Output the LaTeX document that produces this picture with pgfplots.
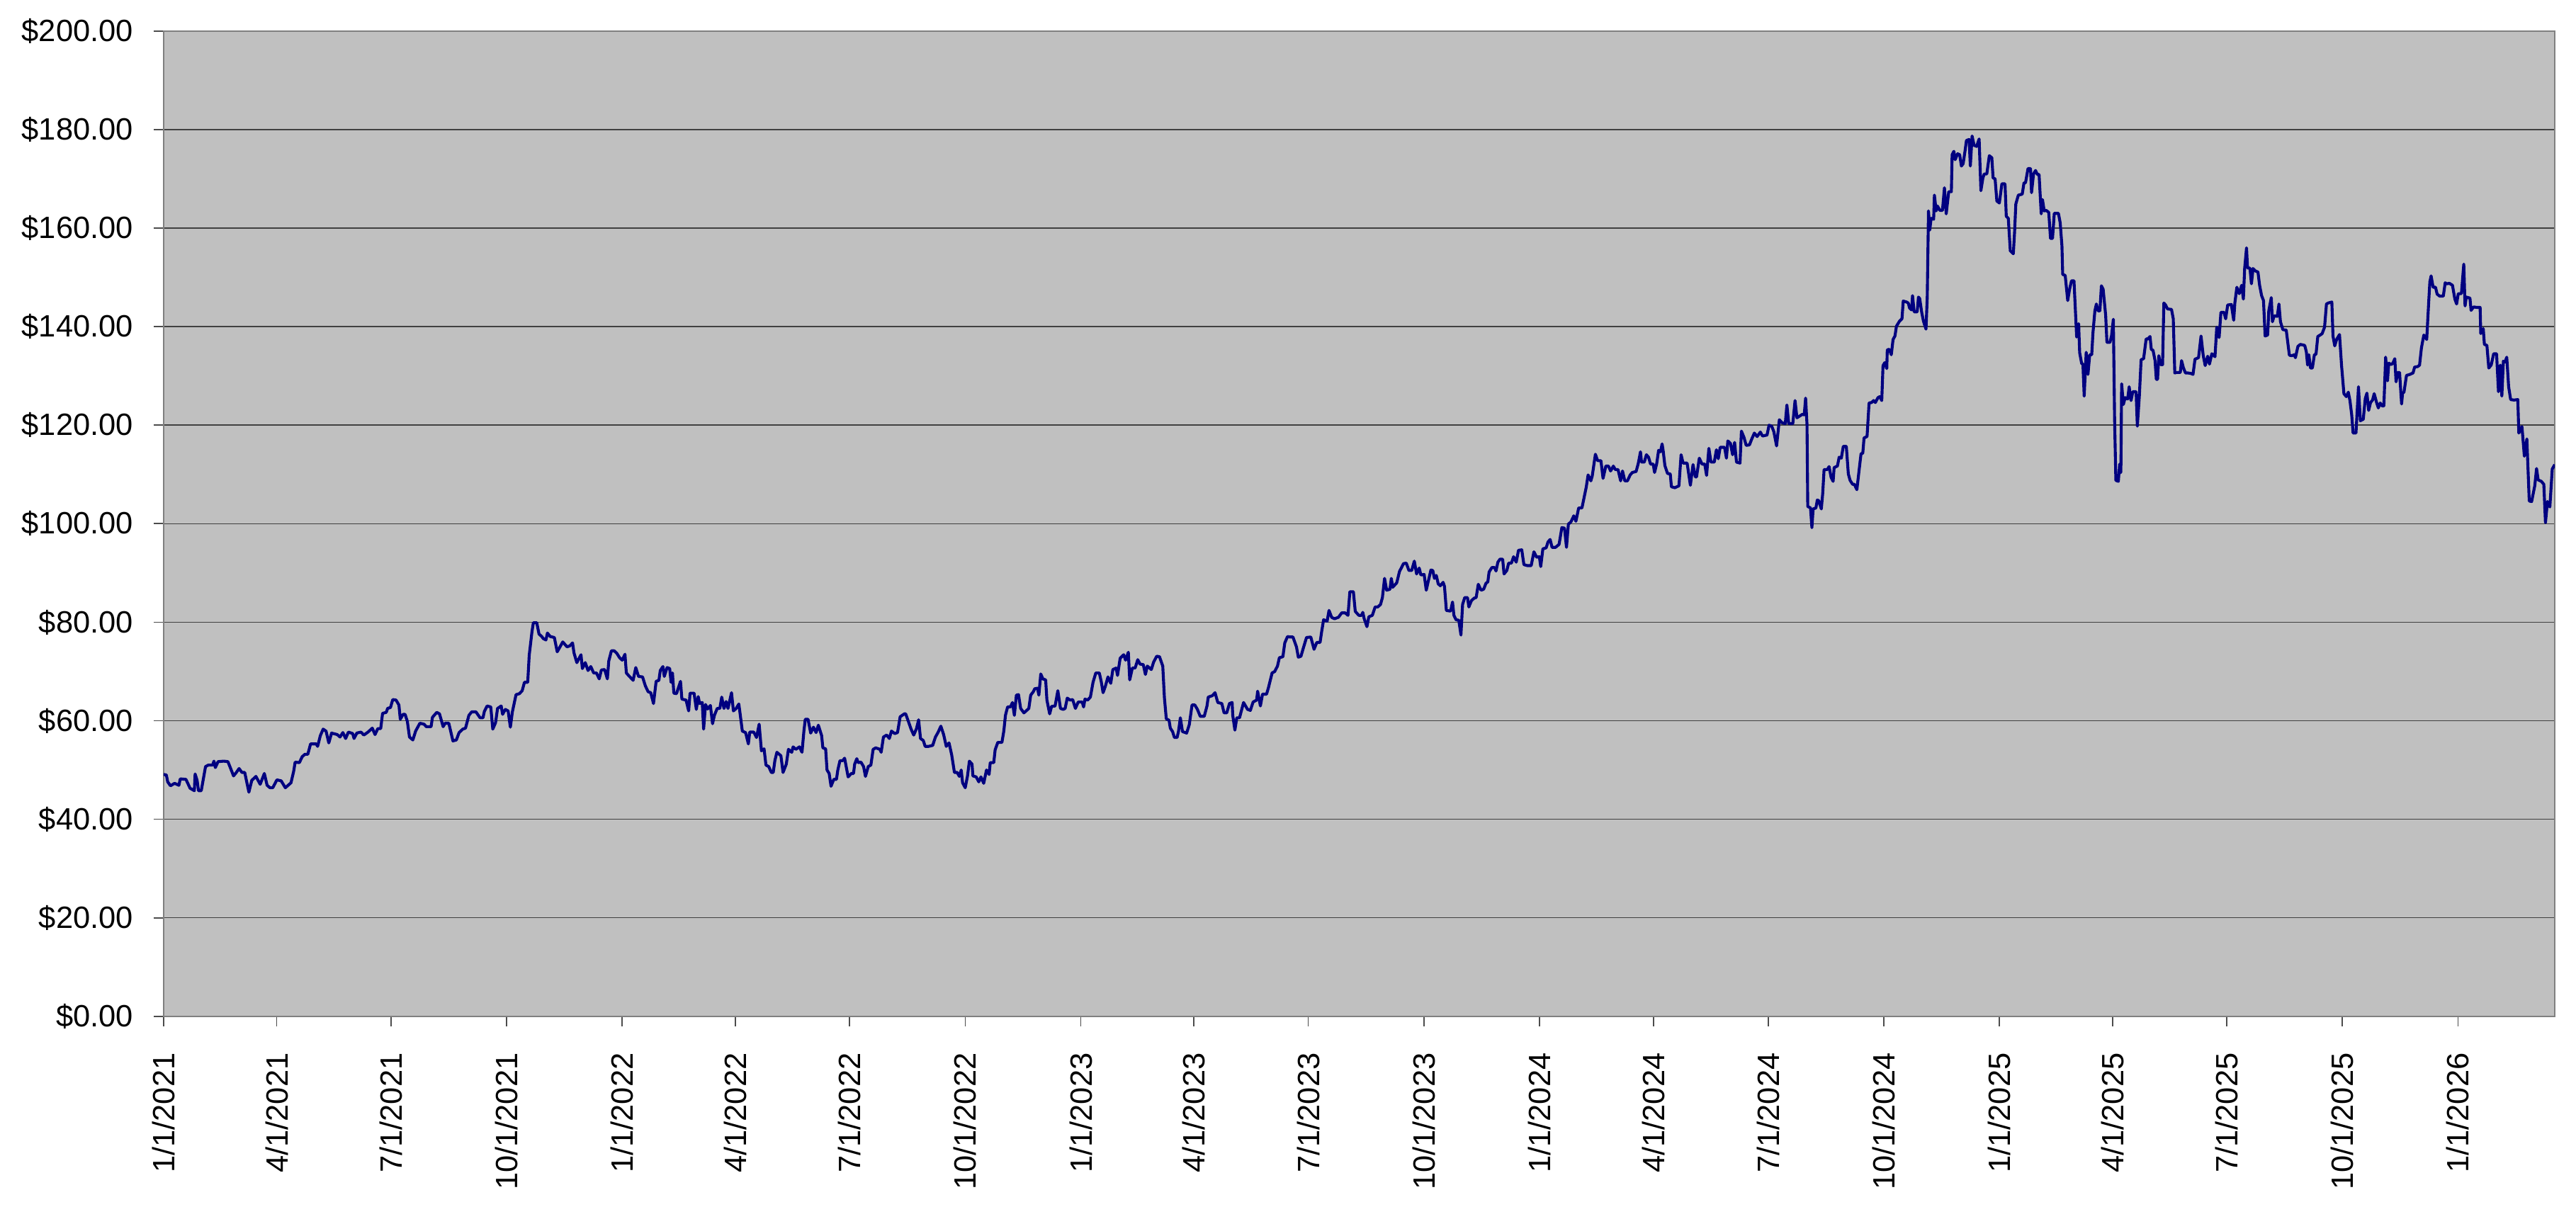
\documentclass[border=0pt]{standalone}
\usepackage{pgfplots}
\pgfplotsset{compat=1.18}
\usepackage{pgfplotstable}
\usepackage{fontspec}
\setmainfont{Liberation Sans}
\definecolor{silverbg}{HTML}{C0C0C0}
\definecolor{navyline}{HTML}{000080}
\definecolor{framegray}{HTML}{808080}

\pgfplotstableread{
x y
0.0 49.1
2.2 49.0
3.3 47.6
5.5 46.8
8.8 47.3
12.2 46.9
13.3 48.2
17.8 48.1
21.1 46.3
24.5 45.8
25.1 49.2
26.7 47.9
27.8 45.8
30.0 45.8
33.4 50.7
35.6 51.0
39.0 51.0
40.1 51.8
41.2 50.5
43.4 51.7
47.9 51.8
51.2 51.7
53.4 50.3
55.7 48.8
57.9 49.5
60.1 50.3
62.4 49.5
64.6 49.5
67.9 45.5
70.2 47.9
73.5 48.7
76.9 47.1
80.2 49.3
82.4 46.9
84.7 46.4
86.9 46.4
90.2 48.0
93.6 47.8
96.9 46.4
101.4 47.4
103.6 49.8
104.7 51.6
108.1 51.5
110.3 52.7
112.5 53.2
114.8 53.2
117.0 55.3
121.5 55.3
122.6 54.8
124.8 57.0
127.0 58.3
129.3 57.9
131.5 55.5
133.7 57.5
138.2 57.2
140.4 56.7
142.7 57.6
144.9 56.4
147.1 57.7
150.5 57.4
151.6 56.4
153.8 57.5
157.1 57.7
159.4 57.1
162.7 57.7
166.1 58.5
168.3 57.2
170.5 58.4
172.8 58.4
174.3 61.5
177.2 61.7
178.3 62.5
180.6 62.7
182.4 64.3
185.0 64.2
187.3 63.2
188.4 60.3
190.6 61.3
192.2 61.3
194.0 59.9
195.7 56.7
198.4 56.1
200.6 57.9
204.0 59.5
207.3 59.3
209.1 58.8
212.9 58.8
214.0 60.7
217.4 61.7
219.6 61.4
222.5 58.8
224.1 59.5
227.0 59.5
230.3 55.9
233.0 56.1
235.2 57.6
238.1 58.3
240.3 58.5
243.0 61.1
245.2 61.8
248.6 61.8
251.9 60.6
254.2 60.6
255.3 61.9
257.5 63.0
260.4 62.8
262.0 58.3
264.2 59.6
265.8 62.5
268.7 63.0
269.8 61.3
272.0 62.3
274.2 62.0
276.0 58.7
277.6 61.8
280.5 65.3
283.2 65.5
285.4 66.1
287.2 67.8
289.8 67.8
291.0 73.3
293.2 78.1
294.3 79.9
297.0 79.9
298.8 77.6
301.0 77.1
302.1 76.7
304.3 76.4
305.5 77.8
307.7 77.1
311.0 76.9
313.3 74.0
315.5 75.0
317.7 76.0
321.1 75.0
323.3 75.2
325.5 75.8
326.6 73.8
328.9 71.8
332.2 73.4
333.3 70.6
335.6 71.8
337.8 70.2
340.0 71.0
342.3 69.7
344.5 69.7
346.7 68.5
348.4 70.3
351.0 70.4
353.2 68.5
354.3 72.1
356.4 74.2
358.6 74.2
360.7 73.7
362.9 72.8
365.0 72.3
367.2 73.5
368.3 69.7
370.4 69.1
373.7 68.2
375.8 70.8
378.0 69.0
381.2 68.9
383.4 67.1
385.6 65.9
387.7 65.7
389.9 63.5
392.0 68.0
394.2 68.2
395.3 70.2
397.4 71.0
398.5 69.0
400.7 70.8
402.8 70.6
403.9 67.8
405.0 69.7
406.1 65.6
408.2 65.5
411.4 68.0
412.5 64.4
415.8 64.2
417.9 62.0
419.0 65.6
422.2 65.6
424.0 62.3
425.5 64.9
426.6 63.5
428.7 63.7
429.8 58.3
431.3 63.3
433.0 62.4
435.2 63.1
436.9 59.4
438.4 61.1
440.6 62.5
442.7 62.5
444.2 64.8
446.0 62.5
447.7 63.9
449.2 62.5
452.0 65.7
453.5 62.0
455.7 62.5
457.8 63.4
458.9 61.3
460.6 57.9
463.2 57.6
465.4 55.3
466.5 57.7
469.7 57.7
471.9 56.6
474.0 59.3
475.8 53.9
477.9 54.3
479.4 51.0
481.6 50.7
483.7 49.5
485.2 49.5
486.5 51.9
488.1 53.6
491.3 52.9
493.0 49.5
495.6 51.2
497.3 54.2
499.9 53.6
501.0 54.7
503.2 54.2
506.0 54.7
508.1 53.6
509.6 57.9
510.7 60.3
512.9 60.3
515.0 57.5
517.2 58.7
519.3 57.6
521.1 59.1
523.7 57.0
524.7 54.5
526.9 54.3
528.0 50.0
529.7 49.3
531.2 46.7
533.4 48.1
535.5 48.1
536.6 50.0
538.3 51.9
540.5 51.9
542.0 52.4
544.8 48.6
547.4 49.3
549.1 49.3
550.0 51.2
551.7 52.3
552.8 51.5
555.0 51.6
557.1 50.7
558.6 48.7
560.8 50.7
562.9 51.0
564.7 54.2
566.8 54.5
570.1 54.2
571.1 53.6
572.9 56.7
575.5 57.1
577.6 56.4
579.3 57.9
581.9 57.4
584.1 57.6
586.2 60.8
589.5 61.4
590.6 61.4
592.7 59.9
594.9 58.3
597.0 57.1
599.2 58.4
600.9 60.2
602.4 56.4
604.6 56.0
606.1 54.8
608.9 54.8
612.1 55.0
614.3 56.7
616.5 57.7
618.6 58.9
620.8 57.2
622.9 54.8
625.1 55.5
627.2 53.1
629.4 49.5
631.6 49.5
633.3 48.7
634.8 50.0
635.9 47.4
638.0 46.4
639.8 48.8
641.3 51.8
643.4 51.2
644.1 48.8
646.7 48.6
648.8 47.6
650.5 48.6
652.7 47.3
654.9 50.0
657.0 49.1
657.9 51.5
660.7 51.5
661.8 54.1
663.9 55.6
667.2 55.6
668.7 57.9
670.0 61.1
671.7 62.8
673.9 62.8
675.6 63.7
677.1 61.1
678.7 65.2
680.4 65.3
682.1 62.5
684.7 61.6
686.9 62.1
688.6 62.5
690.1 65.2
692.2 65.9
693.3 66.5
695.5 66.6
696.6 65.2
698.1 69.5
699.8 68.5
702.0 68.3
703.0 64.2
705.2 61.4
706.7 62.9
709.5 63.0
711.7 66.1
713.8 62.5
716.0 62.3
717.5 62.5
719.2 64.6
721.4 64.2
723.5 64.3
725.7 62.5
727.9 63.8
731.1 63.8
732.2 62.8
733.3 64.4
735.4 64.2
737.6 64.8
739.7 67.8
741.9 69.7
744.7 69.7
746.2 68.0
747.7 65.7
749.4 66.9
751.6 68.9
753.8 67.6
755.5 70.4
758.1 70.7
759.2 69.2
761.3 72.7
764.1 73.4
765.6 72.3
767.8 73.9
768.9 68.3
771.0 70.7
773.2 70.7
775.3 72.4
777.1 71.5
779.7 71.4
781.4 69.4
782.9 71.1
786.1 70.4
787.9 71.9
790.4 73.1
792.6 73.0
795.2 71.1
796.5 64.7
798.0 60.4
800.2 60.1
801.2 58.5
803.0 57.8
804.5 56.6
806.6 56.6
807.7 57.8
809.2 60.6
810.9 57.8
814.2 57.5
816.3 59.2
818.5 63.2
820.7 63.2
822.8 62.3
825.0 60.9
828.2 60.9
830.4 63.0
831.4 64.8
834.7 65.1
836.8 65.7
839.0 63.7
842.2 63.5
844.0 61.6
846.1 61.6
848.3 63.5
850.4 63.7
850.9 61.1
852.6 58.1
854.1 60.6
856.3 60.6
859.5 63.7
862.7 62.3
864.9 62.1
867.1 63.8
869.9 64.2
870.7 66.0
872.9 63.0
874.6 65.4
877.8 65.4
879.4 66.8
882.2 69.7
884.3 70.0
886.5 71.1
888.0 72.8
890.8 73.0
892.3 75.8
894.5 77.1
896.2 77.0
898.8 77.0
901.6 75.0
903.1 72.9
905.2 73.1
907.0 74.7
909.6 76.9
913.0 77.0
915.6 74.5
917.8 75.9
920.4 75.9
921.6 78.0
923.2 80.5
926.0 80.2
927.5 82.4
929.6 81.0
931.8 80.7
935.0 81.0
937.6 81.9
940.4 81.9
942.6 81.4
944.1 86.2
946.9 86.2
948.4 82.2
951.2 81.4
953.4 81.4
954.4 82.0
955.5 80.7
957.7 79.1
959.2 81.1
962.0 81.4
964.2 83.1
966.3 83.1
968.5 83.6
970.0 85.0
971.7 88.9
973.4 86.5
976.0 86.7
977.1 88.9
978.2 87.1
981.4 88.0
983.6 90.3
986.8 91.9
989.0 92.0
991.1 90.5
993.3 90.5
995.4 92.4
997.2 89.8
999.3 91.0
1000.6 89.6
1003.2 89.7
1004.9 86.5
1006.4 88.2
1008.6 90.6
1010.1 90.5
1011.4 88.9
1012.9 89.5
1014.4 87.8
1016.1 87.4
1018.3 88.1
1019.4 87.3
1020.9 82.4
1023.0 82.3
1024.3 82.3
1025.8 84.1
1026.9 81.4
1028.6 80.5
1030.8 80.4
1032.5 77.4
1033.8 83.6
1035.5 85.0
1037.7 85.0
1038.8 83.1
1040.9 84.4
1043.1 84.9
1044.6 85.0
1046.3 87.7
1048.5 86.5
1050.6 86.7
1052.4 87.9
1053.9 88.2
1054.9 90.2
1057.1 91.1
1059.3 91.1
1060.4 90.4
1061.9 92.2
1063.6 92.8
1065.7 92.8
1066.8 89.8
1069.0 90.5
1070.5 92.0
1072.7 92.0
1074.4 93.3
1076.5 92.2
1078.3 94.6
1080.9 94.7
1082.6 91.7
1085.2 91.5
1088.4 91.5
1090.6 94.3
1092.7 93.2
1094.9 93.3
1096.0 91.3
1097.7 94.9
1100.3 95.1
1101.8 96.3
1103.5 96.8
1105.0 95.2
1107.8 95.2
1110.6 95.8
1112.8 99.2
1114.9 99.1
1116.5 95.2
1118.0 99.9
1120.1 100.4
1122.3 101.6
1124.0 100.5
1126.2 103.2
1128.8 103.2
1130.5 105.3
1132.2 107.4
1133.7 109.9
1135.9 108.7
1137.0 109.7
1139.5 114.1
1141.3 112.8
1143.9 112.8
1145.6 109.2
1147.8 111.7
1149.9 111.7
1151.6 110.7
1153.8 111.7
1155.3 111.0
1157.5 111.0
1159.6 108.7
1161.1 110.7
1162.9 108.7
1165.0 108.7
1167.2 109.9
1168.9 110.4
1171.9 110.6
1173.6 112.2
1175.4 114.6
1176.2 112.5
1178.4 112.5
1180.1 114.0
1181.8 113.5
1183.4 112.1
1185.5 112.1
1186.6 110.4
1188.3 112.2
1189.8 114.9
1191.3 114.6
1192.6 116.2
1193.5 114.7
1194.8 111.8
1196.9 110.2
1199.1 110.1
1200.0 107.5
1202.8 107.3
1206.0 107.7
1207.7 114.0
1209.3 112.3
1212.5 112.3
1215.1 107.8
1217.2 112.0
1219.0 109.5
1220.0 109.5
1222.2 113.3
1224.4 112.1
1226.5 112.1
1228.0 109.8
1229.8 115.3
1231.5 112.5
1234.1 112.5
1235.8 115.0
1237.3 113.2
1238.8 115.5
1242.3 115.5
1243.8 113.3
1244.9 116.8
1247.0 116.3
1248.7 114.0
1250.3 116.5
1251.8 112.5
1254.6 112.3
1255.7 118.8
1257.8 117.5
1259.5 115.9
1262.1 116.0
1263.8 117.1
1266.0 118.4
1268.2 117.7
1270.8 118.6
1272.5 117.8
1276.1 118.0
1277.7 120.0
1279.8 119.8
1281.5 118.7
1283.7 115.8
1285.9 121.1
1288.0 120.5
1290.6 120.3
1291.9 124.1
1293.4 120.3
1296.6 120.3
1298.4 125.0
1299.9 121.5
1304.2 122.2
1305.7 122.1
1306.8 125.5
1307.9 120.2
1308.5 103.5
1310.7 103.2
1311.8 99.2
1312.8 103.0
1315.0 103.2
1316.1 104.8
1317.2 104.7
1319.3 103.0
1320.4 106.1
1321.5 111.0
1324.1 111.0
1325.5 111.6
1327.1 109.4
1328.7 108.6
1329.5 111.4
1332.1 111.7
1333.5 113.5
1335.2 113.3
1336.8 115.7
1339.2 115.7
1340.8 110.1
1342.2 108.8
1344.2 108.0
1345.6 108.0
1347.6 106.9
1349.3 110.7
1350.9 114.2
1352.3 114.3
1353.3 117.4
1355.7 117.7
1357.3 124.5
1359.3 124.6
1360.9 125.0
1362.3 124.6
1364.4 125.6
1365.8 125.8
1367.4 125.0
1368.4 132.1
1369.8 132.7
1371.4 131.5
1371.8 135.3
1373.4 135.4
1375.0 134.3
1376.4 137.4
1377.9 138.1
1379.1 140.1
1381.5 141.1
1383.5 141.6
1384.5 145.2
1387.1 145.0
1388.5 144.8
1389.5 143.8
1391.1 143.4
1391.9 146.3
1393.2 143.0
1395.6 143.0
1396.6 146.0
1397.6 145.7
1399.2 142.9
1400.6 141.1
1402.6 139.5
1403.6 145.9
1404.6 163.5
1405.6 159.6
1406.7 162.0
1408.7 161.8
1409.3 166.7
1410.7 163.5
1411.7 164.5
1413.7 163.6
1415.7 163.6
1417.3 168.2
1418.7 162.9
1420.7 167.4
1422.8 167.4
1423.4 174.9
1424.8 175.6
1425.8 173.9
1427.8 175.1
1429.4 174.9
1430.8 172.6
1432.2 173.1
1433.8 175.9
1434.8 177.8
1436.9 178.0
1437.9 172.6
1439.3 178.7
1440.9 176.8
1442.9 176.6
1444.9 178.1
1446.3 167.6
1447.9 170.2
1449.0 171.0
1451.0 171.0
1453.0 174.7
1455.0 174.3
1456.0 170.2
1457.6 170.0
1459.0 165.5
1461.0 165.1
1463.0 169.0
1465.5 169.0
1466.5 162.4
1468.1 162.0
1469.7 155.4
1472.1 154.8
1473.1 159.2
1474.1 164.9
1476.1 166.7
1479.2 166.9
1480.6 169.2
1481.8 169.2
1483.8 172.1
1485.8 172.1
1486.6 167.2
1488.2 171.0
1489.8 171.7
1491.2 170.9
1492.6 170.9
1494.3 162.9
1495.3 165.8
1496.7 163.5
1498.3 163.6
1500.3 163.2
1501.7 157.9
1503.3 157.9
1504.7 163.0
1508.0 163.0
1509.4 161.1
1510.8 156.4
1511.4 150.6
1513.4 150.4
1515.4 145.3
1516.8 147.5
1518.4 149.3
1520.4 149.3
1522.5 137.9
1524.1 140.6
1524.9 134.7
1526.5 132.5
1527.5 132.4
1528.5 125.9
1530.1 134.8
1531.5 130.3
1532.9 134.3
1534.5 134.3
1535.5 138.8
1537.0 143.2
1538.2 144.6
1539.6 143.2
1541.0 143.2
1542.2 148.3
1543.6 147.6
1545.6 142.3
1546.6 136.8
1549.0 136.8
1550.3 138.2
1551.7 141.5
1552.7 121.2
1553.7 108.8
1555.7 108.6
1556.7 112.1
1557.7 110.4
1558.3 128.4
1559.7 124.2
1561.1 125.6
1563.1 125.3
1564.3 127.8
1565.8 125.0
1567.2 126.8
1569.8 126.8
1570.8 119.8
1572.4 125.9
1573.8 133.3
1575.8 133.5
1577.8 137.5
1579.2 137.5
1580.9 138.0
1581.9 135.4
1583.3 135.2
1584.9 133.1
1585.9 129.3
1586.9 129.3
1587.9 134.1
1589.3 132.3
1590.9 132.3
1591.9 144.8
1593.3 144.4
1594.8 143.6
1598.0 143.5
1599.4 141.6
1600.6 130.6
1602.0 130.7
1605.0 130.7
1606.0 133.1
1607.4 131.7
1609.1 130.6
1611.1 130.6
1613.5 130.5
1615.1 130.3
1616.7 133.4
1619.5 133.7
1621.5 138.1
1623.2 134.2
1624.8 132.1
1626.8 134.0
1628.2 132.4
1630.1 134.5
1632.6 133.9
1634.0 139.9
1635.9 137.8
1637.3 142.9
1639.8 142.9
1641.1 141.6
1642.7 144.4
1645.6 144.5
1647.5 141.3
1648.4 144.8
1650.0 148.0
1651.9 146.7
1653.8 148.4
1655.2 145.6
1656.2 151.8
1657.7 156.0
1658.5 151.9
1660.4 151.9
1661.6 148.7
1662.9 151.8
1664.8 151.3
1666.8 151.1
1668.1 148.4
1669.7 146.3
1671.2 145.3
1672.5 138.1
1674.5 138.3
1675.4 143.2
1677.4 145.9
1678.3 141.0
1679.7 142.2
1682.2 142.1
1683.5 144.6
1684.7 141.0
1686.6 139.4
1689.3 139.3
1691.8 134.2
1693.8 134.1
1695.7 134.3
1696.6 133.7
1698.6 136.0
1700.5 136.4
1704.0 136.2
1705.3 134.9
1706.3 132.2
1707.3 134.3
1708.6 131.6
1710.1 131.6
1711.7 134.3
1713.0 134.4
1714.4 138.0
1716.9 138.4
1717.9 138.6
1719.8 139.9
1721.3 144.6
1722.7 144.8
1725.6 145.0
1726.5 138.1
1727.9 136.1
1729.4 137.4
1731.7 138.4
1733.3 132.2
1735.2 126.4
1737.1 125.8
1738.7 126.7
1740.0 125.0
1741.4 122.1
1742.5 118.4
1744.8 118.4
1746.8 127.8
1748.3 120.9
1750.6 121.2
1752.2 125.4
1753.5 126.5
1754.9 123.0
1756.4 124.6
1758.0 125.1
1759.3 126.4
1761.2 124.6
1762.6 123.5
1764.1 124.5
1765.7 123.9
1767.0 123.9
1768.4 133.8
1769.9 129.0
1770.9 132.6
1772.8 132.3
1774.2 132.6
1775.7 133.5
1776.7 128.8
1778.0 130.7
1779.5 130.7
1781.1 124.3
1781.9 126.5
1783.0 126.7
1785.0 130.1
1787.6 130.3
1790.2 130.6
1791.5 131.8
1794.0 131.9
1795.4 132.2
1796.9 135.7
1798.8 138.3
1801.1 137.4
1802.7 145.1
1803.6 149.1
1804.6 150.3
1806.2 148.0
1808.1 148.0
1809.4 146.6
1811.4 146.2
1814.3 146.2
1815.8 148.9
1817.1 148.7
1819.1 148.8
1821.6 148.4
1823.5 145.6
1824.9 144.6
1826.2 146.7
1828.7 146.7
1830.6 152.7
1831.6 144.2
1832.6 146.0
1835.5 145.8
1836.4 143.3
1838.4 144.0
1841.2 143.9
1843.6 143.9
1844.1 138.6
1846.1 139.6
1847.0 136.4
1849.0 136.2
1850.5 131.6
1852.4 132.2
1854.4 134.5
1856.7 134.5
1858.2 126.8
1859.6 132.2
1860.9 125.9
1862.1 133.0
1863.4 132.8
1864.8 133.8
1866.3 127.8
1867.9 125.2
1870.6 125.1
1873.6 125.2
1874.4 118.4
1876.9 119.7
1878.8 113.7
1880.8 117.2
1882.7 104.6
1884.6 104.5
1887.1 107.7
1888.5 111.2
1889.8 108.9
1892.3 108.6
1894.3 108.0
1895.6 100.2
1897.2 104.5
1899.1 103.4
1901.0 111.1
1903.0 112.0
}\pricedata

\begin{document}
\begin{tikzpicture}
\begin{axis}[
  name=main,
  scale only axis,
  width=776.25pt, height=319.9pt,
  xmin=0, xmax=1903,
  ymin=0, ymax=200,
  axis background/.style={fill=silverbg},
  axis line style={draw=framegray, line width=0.6pt},
  tick align=outside,
  tick pos=left,
  major tick length=3.2pt,
  tick style={draw=black!70, line width=0.4pt},
  ymajorgrids=true,
  grid style={draw=black!75, line width=0.35pt},
  ytick={0,20,40,60,80,100,120,140,160,180,200},
  yticklabels={\$0.00,\$20.00,\$40.00,\$60.00,\$80.00,\$100.00,\$120.00,\$140.00,\$160.00,\$180.00,\$200.00},
  xtick={0,90,181,273,365,455,546,638,730,820,911,1003,1095,1186,1277,1369,1461,1551,1642,1734,1826},
  xticklabels={1/1/2021,4/1/2021,7/1/2021,10/1/2021,1/1/2022,4/1/2022,7/1/2022,10/1/2022,1/1/2023,4/1/2023,7/1/2023,10/1/2023,1/1/2024,4/1/2024,7/1/2024,10/1/2024,1/1/2025,4/1/2025,7/1/2025,10/1/2025,1/1/2026},
  ticklabel style={font=\fontsize{10}{12}\selectfont, text=black},
  xticklabel style={rotate=90, anchor=east, inner sep=0pt, xshift=0pt},
  yticklabel style={anchor=east, inner sep=0pt},
  xticklabel shift=8.5pt,
  yticklabel shift=6.5pt,
  clip=true,
]
\addplot[navyline, line width=0.95pt, line join=round, mark=none] table[x=x, y=y] {\pricedata};
\end{axis}
\pgfresetboundingbox
\path[use as bounding box] ([xshift=-53.1pt,yshift=-67.4pt]main.south west) rectangle ([xshift=6.9pt,yshift=10.1pt]main.north east);
\end{tikzpicture}
\end{document}
